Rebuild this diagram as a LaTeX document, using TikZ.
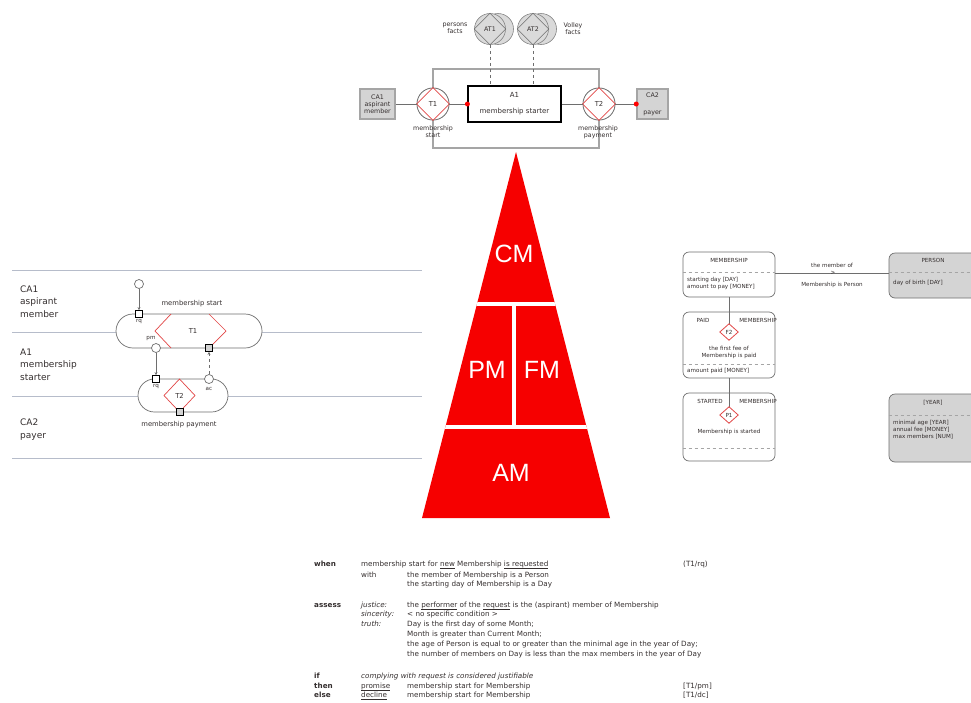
\documentclass[tikz,border=0pt]{standalone}
\usepackage{fontspec}
\setmainfont{DejaVu Sans}
\newfontfamily\pyrfont{Liberation Sans}
\usetikzlibrary{arrows.meta,calc}

\definecolor{ink}{RGB}{52,46,46}
\definecolor{laneline}{RGB}{182,188,202}
\definecolor{boxgrey}{RGB}{212,212,212}
\definecolor{edgegrey}{RGB}{165,165,165}
\definecolor{darkedge}{RGB}{110,110,110}
\definecolor{factfill}{RGB}{218,218,218}
\definecolor{pyr}{RGB}{246,0,0}
\definecolor{trred}{RGB}{226,70,70}

% underline that sits just below the baseline
\newcommand\ulin[1]{\underline{\smash{#1}}}

\begin{document}
\begin{tikzpicture}[x=1pt,y=-1pt,
  lbl/.style={text=ink,inner sep=0pt,font=\fontsize{6.8}{8}\selectfont},
  tiny/.style={text=ink,inner sep=0pt,font=\fontsize{6.3}{7}\selectfont,align=center},
  actorbox/.style={draw=edgegrey,line width=1.5pt,fill=boxgrey,inner sep=0pt,
    minimum height=30pt,tiny},
  trcircle/.style={circle,draw=darkedge,line width=0.7pt,fill=white,
    minimum size=32pt,inner sep=0pt,lbl},
  reddot/.style={circle,fill=red,minimum size=5pt,inner sep=0pt},
  factcircle/.style={circle,draw=darkedge!85,line width=0.6pt,fill=factfill,
    minimum size=31pt,inner sep=0pt,tiny},
  frameline/.style={draw=edgegrey,line width=1.6pt},
  thinline/.style={draw=darkedge,line width=0.7pt},
  lanelabel/.style={text=ink,inner sep=0pt,anchor=west,align=left,
    font=\fontsize{9}{12.5}\selectfont},
  capsule/.style={draw=darkedge,line width=0.7pt,fill=white,inner sep=0pt},
  portsq/.style={draw=black,line width=0.7pt,fill=white,minimum size=7pt,inner sep=0pt},
  portsqg/.style={portsq,fill=boxgrey},
  portci/.style={circle,draw=darkedge,line width=0.7pt,fill=white,minimum size=9pt,inner sep=0pt},
  pyrlabel/.style={text=white,font=\pyrfont\fontsize{25}{25}\selectfont,inner sep=0pt},
  fbox/.style={draw=darkedge,line width=0.7pt,fill=white,rounded corners=6pt,
    minimum width=92pt,inner sep=0pt},
  fboxg/.style={fbox,fill=boxgrey},
  small/.style={text=ink,inner sep=0pt,align=center,font=\fontsize{5.6}{7}\selectfont},
  sep/.style={draw=edgegrey,line width=0.5pt,dashed},
  factdia/.style={draw=trred,line width=0.8pt,fill=white},
  body/.style={text=ink,inner sep=0pt,anchor=base west,font=\fontsize{7.2}{8.5}\selectfont},
  key/.style={body,font=\fontsize{7.2}{8.5}\selectfont\bfseries},
]
\useasboundingbox (0,0) rectangle (971,702);

% ---------------- actor transaction diagram ----------------
\coordinate (ftop) at (0,69);
\coordinate (fbot) at (0,148);
\node[trcircle] (T1) at (433,104) {};
\node[trcircle] (T2) at (599,104) {};
\draw[frameline] (T1.north) -- (T1.north |- ftop) -| (T2.north);
\draw[frameline] (T1.south) -- (T1.south |- fbot) -| (T2.south);
\node[trcircle] at (T1) {};
\node[trcircle] at (T2) {};
\draw[trred,line width=0.8pt] (T1.north) -- (T1.east) -- (T1.south) -- (T1.west) -- cycle;
\draw[trred,line width=0.8pt] (T2.north) -- (T2.east) -- (T2.south) -- (T2.west) -- cycle;
\node[lbl] (T1t) at (T1) {T1};
\node[lbl] (T2t) at (T2) {T2};

\node[actorbox,minimum width=35pt] (CA1) at (377.5,104)
  {CA1\\aspirant\\member};
\node[actorbox,minimum width=31pt] (CA2) at (652.5,104) {CA2\\[10pt]payer};
\node[draw=black,line width=1.2pt,fill=white,minimum width=93pt,minimum height=36pt,
  inner sep=0pt,align=center,text=ink,font=\fontsize{7}{8}\selectfont]
  (A1) at (514.5,104) {A1\\[8pt]membership starter};

\draw[thinline] (CA1.east) -- (T1.west);
\draw[thinline] (T1.east) -- (A1.west);
\draw[thinline] (A1.east) -- (T2.west);
\draw[thinline] (T2.east) -- (CA2.west);
\node[reddot] (d1) at (A1.west) {};
\node[reddot] (d2) at (CA2.west) {};

\node[tiny] (T1l) at (433,132) {membership\\start};
\node[tiny] (T2l) at (598,132) {membership\\payment};

% fact banks
\node[factcircle] (AT1b) at (498,29) {};
\node[factcircle] (AT1) at (490,29) {};
\node[factcircle] (AT2b) at (541,29) {};
\node[factcircle] (AT2) at (533,29) {};
\draw[darkedge,line width=0.6pt] (AT1.north) -- (AT1.east) -- (AT1.south) -- (AT1.west) -- cycle;
\draw[darkedge,line width=0.6pt] (AT2.north) -- (AT2.east) -- (AT2.south) -- (AT2.west) -- cycle;
\node[tiny] (AT1t) at (AT1) {AT1};
\node[tiny] (AT2t) at (AT2) {AT2};
\draw[darkedge,line width=0.5pt,dashed] (AT1.south) -- (AT1.south |- A1.north);
\draw[darkedge,line width=0.5pt,dashed] (AT2.south) -- (AT2.south |- A1.north);
\node[tiny] (AT1l) at (455,28.5) {persons\\facts};
\node[tiny] (AT2l) at (573,28.5) {Volley\\facts};

% ---------------- pyramid of models ----------------
\coordinate (apex) at (516,152);
\coordinate (pl) at (422,518);
\coordinate (pr) at (610,518);
\fill[pyr] (apex) -- (pr) -- (pl) -- cycle;
\begin{scope}
  \clip (apex) -- (pr) -- (pl) -- cycle;
  \draw[white,line width=3.5pt] (400,304) -- (640,304);
  \draw[white,line width=3.5pt] (400,427) -- (640,427);
  \draw[white,line width=3.5pt] (514,304) -- (514,427);
\end{scope}
\node[pyrlabel] (CM) at (514,254) {CM};
\node[pyrlabel] (PM) at (487,370) {PM};
\node[pyrlabel] (FM) at (542,370) {FM};
\node[pyrlabel] (AM) at (511,473) {AM};

% ---------------- process structure diagram ----------------
\foreach \yy in {270,332,396,458}
  \draw[laneline,line width=1pt] (12,\yy) -- (422,\yy);
\node[lanelabel] (L1) at (20,301.5) {CA1\\aspirant\\member};
\node[lanelabel] (L2) at (20,364.5) {A1\\membership\\starter};
\node[lanelabel] (L3) at (20,429.5) {CA2\\payer};

\node[capsule,rounded corners=17pt,minimum width=146pt,minimum height=34pt]
  (C1) at (189,331) {};
\draw[trred,line width=0.7pt] (171,314) -- (155,331) -- (171,348);
\draw[trred,line width=0.7pt] (209,314) -- (226,331) -- (209,348);
\node[lbl] (C1t) at (193,331) {T1};
\node[lbl] (C1l) at (192,304) {membership start};

\node[capsule,rounded corners=16.5pt,minimum width=90pt,minimum height=33pt]
  (C2) at (183,395.5) {};
\draw[trred,line width=0.7pt] (179.5,379) -- (195,395.5) -- (179.5,412) -- (164,395.5) -- cycle;
\node[lbl] (C2t) at (179.5,395.5) {T2};
\node[lbl] (C2l) at (179,425) {membership payment};

\node[portci] (init) at (139,284) {};
\node[portsq] (rq1) at (139,314) {};
\node[small] (rq1l) at (139,321.5) {rq};
\node[portci] (pm) at (156,348) {};
\node[small] (pml) at (151,339) {pm};
\node[portsqg] (ex1) at (209,348) {};
\node[portsq] (rq2) at (156,379) {};
\node[small] (rq2l) at (156,386.5) {rq};
\node[portci] (ac) at (209,379) {};
\node[small] (acl) at (209,388.5) {ac};
\node[portsqg] (ex2) at (179.5,412) {};

\draw[thinline,-{Stealth[length=3pt,width=3pt]}] (init) -- (rq1);
\draw[thinline,-{Stealth[length=3pt,width=3pt]}] (pm) -- (rq2);
\draw[thinline,dashed,-{Stealth[length=3pt,width=3pt]}] (ac) -- (ex1);

% ---------------- fact model ----------------
\node[fbox,minimum height=45pt] (MEM) at (729,274.5) {};
\draw[sep] (MEM.west |- 0,272) -- (MEM.east |- 0,272);
\node[small] (MEMt) at (729,260) {MEMBERSHIP};
\node[small,anchor=west] (MEMa) at (687,280) {starting day [DAY]};
\node[small,anchor=west] (MEMb) at (687,287) {amount to pay [MONEY]};

\node[fboxg,minimum height=45pt] (PER) at (935,275.5) {};
\draw[sep] (PER.west |- 0,272) -- (PER.east |- 0,272);
\node[small] (PERt) at (933,260) {PERSON};
\node[small,anchor=west] (PERa) at (893,283) {day of birth [DAY]};

\draw[thinline] (MEM.east |- 0,273) -- (PER.west |- 0,273);
\node[small] (rel1) at (832,265) {the member of};
\node[small] (rel2) at (833,272.5) {>};
\node[small] (rel3) at (832,285) {Membership is Person};

\node[fbox,minimum height=66pt] (PAID) at (729,345) {};
\draw[sep] (PAID.west |- 0,364) -- (PAID.east |- 0,364);
\node[small] (PAIDa) at (703,320) {PAID};
\node[small] (PAIDb) at (758,320) {MEMBERSHIP};
\node[small] (PAIDc) at (729,352.5) {the first fee of\\Membership is paid};
\node[small,anchor=west] (PAIDd) at (687,371) {amount paid [MONEY]};
\node[minimum width=18pt,minimum height=16pt,inner sep=0pt] (F2) at (729,332) {};
\draw[thinline] (MEM.south) -- (F2.north);
\draw[factdia] (F2.north) -- (F2.east) -- (F2.south) -- (F2.west) -- cycle;
\node[small] (F2t) at (F2) {F2};

\node[fbox,minimum height=68pt] (STA) at (729,427) {};
\draw[sep] (STA.west |- 0,448) -- (STA.east |- 0,448);
\node[small] (STAa) at (710,401) {STARTED};
\node[small] (STAb) at (758,401) {MEMBERSHIP};
\node[small] (STAc) at (729,432) {Membership is started};
\node[minimum width=18pt,minimum height=16pt,inner sep=0pt] (P1) at (729,415) {};
\draw[thinline] (PAID.south) -- (P1.north);
\draw[factdia] (P1.north) -- (P1.east) -- (P1.south) -- (P1.west) -- cycle;
\node[small] (P1t) at (P1) {P1};

\node[fboxg,minimum height=68pt] (YEAR) at (935,428) {};
\draw[sep] (YEAR.west |- 0,415) -- (YEAR.east |- 0,415);
\node[small] (YEARt) at (933,403) {[YEAR]};
\node[small,anchor=west,align=left] (YEARa) at (893,429.5)
  {minimal age [YEAR]\\annual fee [MONEY]\\max members [NUM]};

% ---------------- action rule ----------------
\node[key] (r1) at (314,566.5) {when};
\node[body] (r2) at (361,566.5) {membership start for \ulin{new} Membership \ulin{is requested}};
\node[body] (r3) at (683,566.5) {(T1/rq)};
\node[body] (r4) at (361,577.5) {with};
\node[body] (r5) at (407,577.5) {the member of Membership is a Person};
\node[body] (r6) at (407,586.5) {the starting day of Membership is a Day};
\node[key] (r7) at (314,607.5) {assess};
\node[body] (r8) at (361,607.5) {\itshape justice:};
\node[body] (r9) at (407,607.5) {the \ulin{performer} of the \ulin{request} is the (aspirant) member of Membership};
\node[body] (r10) at (361,616.5) {\itshape sincerity:};
\node[body] (r11) at (407,616.5) {< no specific condition >};
\node[body] (r12) at (361,626.5) {\itshape truth:};
\node[body] (r13) at (407,626.5) {Day is the first day of some Month;};
\node[body] (r14) at (407,636.5) {Month is greater than Current Month;};
\node[body] (r15) at (407,646.5) {the age of Person is equal to or greater than the minimal age in the year of Day;};
\node[body] (r16) at (407,656.5) {the number of members on Day is less than the max members in the year of Day};
\node[key] (r17) at (314,678.5) {if};
\node[body] (r18) at (361,678.5) {\itshape complying with request is considered justifiable};
\node[key] (r19) at (314,688.5) {then};
\node[body] (r20) at (361,688.5) {\ulin{promise}};
\node[body] (r21) at (407,688.5) {membership start for Membership};
\node[body] (r22) at (683,688.5) {[T1/pm]};
\node[key] (r23) at (314,697.5) {else};
\node[body] (r24) at (361,697.5) {\ulin{decline}};
\node[body] (r25) at (407,697.5) {membership start for Membership};
\node[body] (r26) at (683,697.5) {[T1/dc]};
\end{tikzpicture}
\end{document}
